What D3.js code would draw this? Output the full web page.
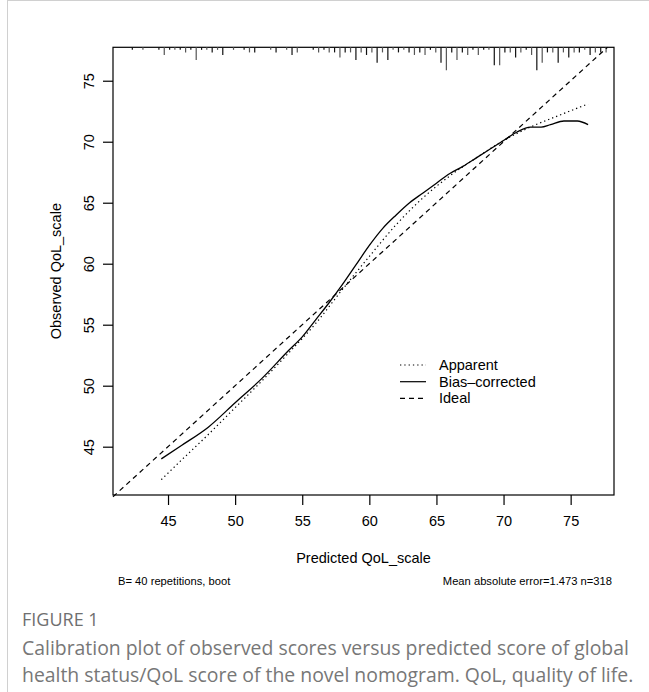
<!DOCTYPE html>
<html>
<head>
<meta charset="utf-8">
<script src="https://cdn.jsdelivr.net/npm/d3@7"></script>
<style>
  html, body { margin: 0; padding: 0; background: #fff; }
  svg { display: block; }
</style>
</head>
<body>
<div id="chart"></div>
<script>
// predicted value grid of the two calibration curves
const predicted = [44.5, 46, 48, 50, 52, 54, 55, 56, 57, 58, 59, 60, 61, 62, 63, 64, 65, 66, 67, 68, 69, 70, 71, 72, 72.8, 73.5, 74.5, 75.5, 76.3];
const biasCorrected = [44.0, 45.1, 46.6, 48.6, 50.6, 52.9, 54.0, 55.4, 56.8, 58.3, 59.9, 61.5, 62.9, 64.0, 65.0, 65.8, 66.6, 67.4, 68.0, 68.7, 69.4, 70.1, 70.8, 71.2, 71.2, 71.4, 71.7, 71.7, 71.4];
const apparentX = [44.5, 46, 48, 50, 52, 54, 56, 58, 60, 62, 64, 66, 68, 70, 72, 74, 76.3];
const apparent = [42.3, 43.9, 46.0, 48.2, 50.4, 52.7, 55.1, 57.9, 60.6, 63.2, 65.4, 67.2, 68.7, 70.1, 71.2, 72.1, 73.1];
// rug of predicted values (top of the frame) and their frequencies
const rugValues = [42.34, 43.13, 44.32, 44.72, 45.12, 45.51, 45.91, 46.31, 46.70, 47.10, 47.50, 47.89, 48.29, 48.69, 49.08, 49.88, 50.67, 51.07, 51.46, 52.65, 53.05, 53.84, 54.24, 54.63, 55.82, 56.22, 56.62, 57.01, 57.41, 57.81, 58.20, 58.60, 59.00, 59.39, 59.79, 60.19, 60.58, 60.98, 61.38, 61.77, 62.17, 62.57, 62.96, 63.36, 63.76, 64.15, 64.55, 64.95, 65.34, 65.74, 66.14, 66.53, 66.93, 67.33, 67.72, 68.12, 68.52, 68.91, 69.31, 69.71, 70.10, 70.50, 70.90, 71.29, 71.69, 72.09, 72.48, 72.88, 73.27, 73.67, 74.07, 74.46, 74.86, 75.26, 75.65, 76.05, 76.45, 76.84, 77.24, 77.64];
const rugCounts = [1, 1, 1, 3, 1, 1, 1, 2, 1, 5, 1, 1, 2, 1, 3, 1, 1, 2, 2, 1, 2, 1, 3, 2, 1, 2, 1, 2, 2, 4, 2, 2, 5, 2, 3, 2, 6, 2, 5, 1, 2, 1, 2, 3, 2, 3, 1, 2, 6, 9, 2, 5, 2, 3, 1, 3, 1, 1, 7, 7, 2, 2, 4, 2, 1, 3, 9, 6, 2, 2, 6, 2, 4, 2, 2, 1, 3, 2, 2, 2];
const xTicks = [45, 50, 55, 60, 65, 70, 75];
const yTicks = [45, 50, 55, 60, 65, 70, 75];
const legendLabels = ["Apparent", "Bias\u2013corrected", "Ideal"];
const legendDash = ["1.3,3", null, "5,4"];

class calibrationChart {
  constructor({ width, height, ele }) {
    this._width = width;
    this._height = height;
    this._container = ele;
    this._plot = { left: 113, right: 614, top: 47.3, bottom: 495 };
    this._font = "'Liberation Sans', Arial, Helvetica, sans-serif";
    this._xScale = d3.scaleLinear([40.9, 78.23], [this._plot.left, this._plot.right]);
    this._yScale = d3.scaleLinear([41.04, 77.74], [this._plot.bottom, this._plot.top]);
  }

  render() {
    this.#initFrame();
    this.#initAxis();
    this.#initRug();
    this.#initLines();
    this.#initLegend();
    this.#initCaption();
  }

  #initFrame() {
    const { _width, _height } = this;
    // page border
    this._container.append("line")
      .attr("x1", 7.5).attr("y1", 0).attr("x2", 7.5).attr("y2", _height)
      .attr("stroke", "#d0d0d0").attr("stroke-width", 1);
    this._container.append("line")
      .attr("x1", 7.5).attr("y1", 0.5).attr("x2", _width).attr("y2", 0.5)
      .attr("stroke", "#d0d0d0").attr("stroke-width", 1);
  }

  #initAxis() {
    const { _plot, _xScale, _yScale, _font } = this;
    this._container
      .append("g")
      .attr("transform", `translate(0, ${_plot.bottom})`)
      .call(d3.axisBottom(_xScale).tickValues(xTicks).tickSize(10).tickPadding(11).tickSizeOuter(0))
      .call((g) => {
        g.select(".domain").remove();
        g.selectAll("line").attr("stroke", "#000").attr("stroke-width", 1.2);
        g.selectAll("text").attr("font-family", _font).attr("font-size", 14.5).attr("fill", "#000");
      });
    this._container
      .append("g")
      .attr("transform", `translate(${_plot.left}, 0)`)
      .call(d3.axisLeft(_yScale).tickValues(yTicks).tickSize(10).tickSizeOuter(0))
      .call((g) => {
        g.select(".domain").remove();
        g.selectAll("line").attr("stroke", "#000").attr("stroke-width", 1.2);
        g.selectAll("text")
          .attr("font-family", _font)
          .attr("font-size", 14.5)
          .attr("fill", "#000")
          .attr("x", null)
          .attr("dy", null)
          .attr("text-anchor", "middle")
          .attr("transform", "translate(-24, 0) rotate(-90)")
          .attr("y", 0)
          .attr("dominant-baseline", "central");
      });
    // plot box
    this._container.append("rect")
      .attr("x", _plot.left).attr("y", _plot.top)
      .attr("width", _plot.right - _plot.left).attr("height", _plot.bottom - _plot.top)
      .attr("fill", "none").attr("stroke", "#000").attr("stroke-width", 1.2);
    // axis titles
    this._container.append("text")
      .text("Predicted QoL_scale")
      .attr("x", (_plot.left + _plot.right) / 2).attr("y", 563)
      .attr("text-anchor", "middle")
      .attr("font-family", _font).attr("font-size", 14.5);
    this._container.append("text")
      .text("Observed QoL_scale")
      .attr("transform", `translate(61, ${(_plot.top + _plot.bottom) / 2}) rotate(-90)`)
      .attr("text-anchor", "middle")
      .attr("font-family", _font).attr("font-size", 14.5);
    // sub titles
    this._container.append("text")
      .text("B= 40 repetitions, boot")
      .attr("x", 118).attr("y", 585)
      .attr("font-family", _font).attr("font-size", 11.2);
    this._container.append("text")
      .text("Mean absolute error=1.473 n=318")
      .attr("x", 612).attr("y", 585)
      .attr("text-anchor", "end")
      .attr("font-family", _font).attr("font-size", 11.2);
  }

  #initRug() {
    const { _plot, _xScale } = this;
    const len = d3.scaleLinear([0, 9], [0, 23]);
    this._container
      .append("g")
      .attr("class", "rugG")
      .selectAll("line")
      .data(rugValues)
      .join("line")
      .attr("x1", (d) => _xScale(d))
      .attr("x2", (d) => _xScale(d))
      .attr("y1", _plot.top)
      .attr("y2", (d, i) => _plot.top + len(rugCounts[i]))
      .attr("stroke", (d, i) => (i % 2 ? "#555" : "#111"))
      .attr("stroke-width", 1.2);
  }

  #initLines() {
    const { _xScale, _yScale } = this;
    const line = d3.line().x((d) => _xScale(d[0])).y((d) => _yScale(d[1])).curve(d3.curveMonotoneX);
    const g = this._container.append("g").attr("class", "curveG");
    // ideal
    g.append("line")
      .attr("x1", _xScale(40.9)).attr("y1", _yScale(40.9))
      .attr("x2", _xScale(77.74)).attr("y2", _yScale(77.74))
      .attr("stroke", "#000").attr("stroke-width", 1.2)
      .attr("stroke-dasharray", legendDash[2]);
    g.append("path")
      .datum(apparentX.map((x, i) => [x, apparent[i]]))
      .attr("d", line)
      .attr("fill", "none").attr("stroke", "#000").attr("stroke-width", 1.2)
      .attr("stroke-dasharray", legendDash[0]);
    g.append("path")
      .datum(predicted.map((x, i) => [x, biasCorrected[i]]))
      .attr("d", line)
      .attr("fill", "none").attr("stroke", "#000").attr("stroke-width", 1.3);
  }

  #initLegend() {
    const { _font } = this;
    const legendG = this._container
      .append("g")
      .attr("class", "legendG")
      .attr("transform", "translate(400, 365)");
    legendG
      .selectAll("g")
      .data(legendLabels)
      .join("g")
      .attr("transform", (_, i) => `translate(0, ${i * 16.7})`)
      .call((g) => {
        g.append("line")
          .attr("x1", 0).attr("x2", 26).attr("y1", 0).attr("y2", 0)
          .attr("stroke", "#000").attr("stroke-width", 1.2)
          .attr("stroke-dasharray", (_, i) => legendDash[i]);
        g.append("text")
          .text((d) => d)
          .attr("x", 39).attr("y", 0)
          .attr("dy", "0.35em")
          .attr("font-family", _font).attr("font-size", 14.5);
      });
  }

  #initCaption() {
    const font = "'Open Sans', 'Noto Sans', sans-serif";
    this._container.append("text")
      .text("FIGURE 1")
      .attr("x", 22).attr("y", 626)
      .attr("font-family", font).attr("font-size", 18).attr("fill", "#6f6f6f");
    const lines = [
      "Calibration plot of observed scores versus predicted score of global",
      "health status/QoL score of the novel nomogram. QoL, quality of life.",
    ];
    this._container.append("g")
      .selectAll("text")
      .data(lines)
      .join("text")
      .text((d) => d)
      .attr("x", 22).attr("y", (_, i) => 655 + i * 27)
      .attr("font-family", font).attr("font-size", 19.4).attr("fill", "#777");
  }
}

const width = 649, height = 692;
const svg = d3.select("#chart").append("svg").attr("width", width).attr("height", height);
new calibrationChart({ width, height, ele: svg }).render();
</script>
</body>
</html>
